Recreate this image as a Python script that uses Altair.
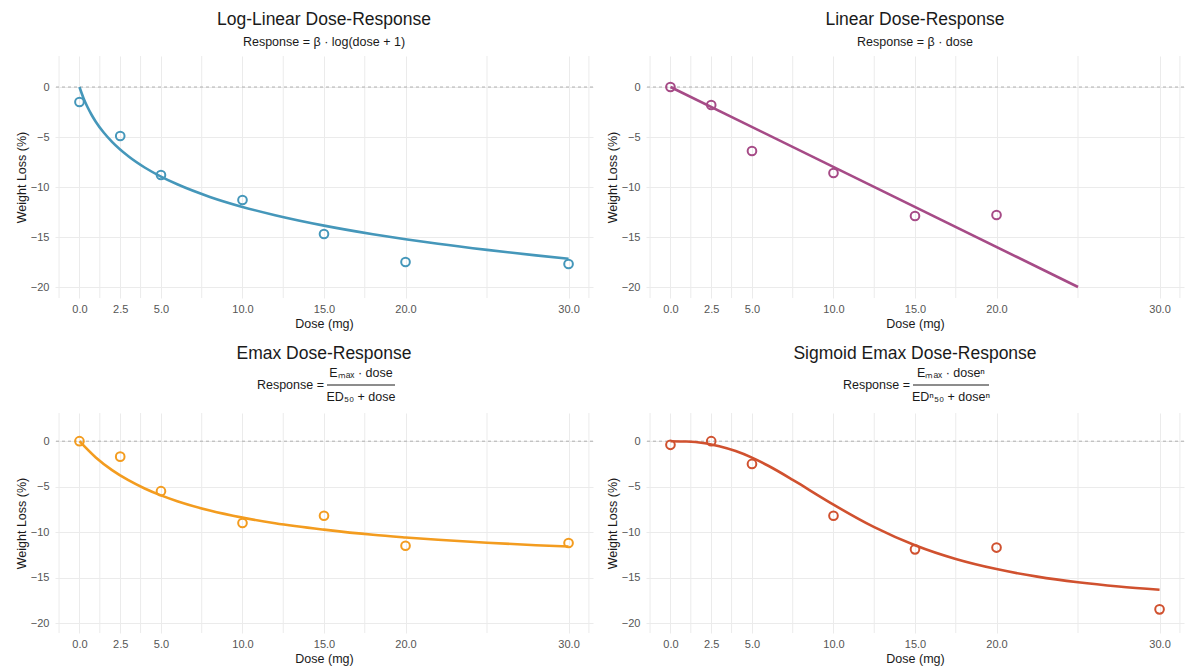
import altair as alt
import pandas as pd

FONT = "Liberation Sans"

obs_dose = [0, 2.5, 5, 10, 15, 20, 30]
loglin_obs = [-1.5, -4.9, -8.8, -11.3, -14.7, -17.5, -17.7]
linear_obs_dose = [0, 2.5, 5, 10, 15, 20]
linear_obs = [0.0, -1.8, -6.4, -8.6, -12.9, -12.8]
emax_obs = [0.0, -1.7, -5.5, -9.0, -8.2, -11.5, -11.2]
sigmoid_obs = [-0.4, 0.0, -2.5, -8.2, -11.9, -11.7, -18.5]

# ---- fitted curves ----
loglin_fit_dose = [0, 0.25, 0.5, 0.75, 1, 1.5, 2, 3, 4, 5, 6, 8, 10, 12, 15, 18, 20, 22, 25, 28, 30]
loglin_fit = [0, -1.12, -2.03, -2.80, -3.47, -4.58, -5.49, -6.93, -8.05, -8.96, -9.73,
              -10.99, -11.99, -12.82, -13.86, -14.72, -15.22, -15.68, -16.29, -16.84, -17.17]
linear_fit_dose = [0, 25]
linear_fit = [0, -20]
emax_fit_dose = [0, 1, 2, 3, 4, 5, 6, 8, 10, 12, 15, 18, 20, 22, 25, 28, 30]
emax_fit = [0, -1.79, -3.18, -4.29, -5.20, -5.96, -6.60, -7.63, -8.41, -9.03, -9.73,
            -10.30, -10.59, -10.85, -11.17, -11.44, -11.59]
sigmoid_fit_dose = [0, 1, 2, 2.5, 3, 4, 5, 6, 7.5, 8, 9, 10, 12.5, 15, 17.5, 20, 22.5, 25, 27.5, 30]
sigmoid_fit = [0, -0.04, -0.20, -0.36, -0.55, -1.09, -1.81, -2.70, -4.25, -4.79, -5.90, -6.98,
               -9.46, -11.45, -12.96, -14.07, -14.90, -15.52, -15.99, -16.35]

# ---- axes ----
x_major = [0, 2.5, 5, 10, 15, 20, 30]
x_minor = [-1.25, 1.25, 3.75, 7.5, 12.5, 17.5, 25, 31.25]
y_grid = [-20, -17.5, -15, -12.5, -10, -7.5, -5, -2.5, 0, 2.5]
y_major = [-20, -15, -10, -5, 0]

colors = {"loglin": "#4597BA", "linear": "#A64B87", "emax": "#F39C1F", "sigmoid": "#D0512F"}

W = 538
H_TOP = 242
H_BOT = 220

x_scale = alt.Scale(domain=[-1.5, 31.5], nice=False, zero=False)
y_scale = alt.Scale(domain=[-21.1, 3.1], nice=False, zero=False)

y_label_expr = "indexof([" + ",".join(str(v) for v in y_major) + "], datum.value) >= 0 ? format(datum.value, 'd') : ''"

x_axis = alt.Axis(values=x_major, format=".1f", title="Dose (mg)", grid=True,
                  gridColor="#EBEBEB", gridWidth=1, domain=False, ticks=False,
                  labelColor="#555555", labelFontSize=11, labelFont=FONT, labelPadding=5,
                  titleFont=FONT, titleFontSize=12.5, titleFontWeight="normal",
                  titleColor="#1a1a1a", titlePadding=3, labelOverlap=False, labelFlush=False)
y_axis = alt.Axis(values=y_grid, labelExpr=y_label_expr, title="Weight Loss (%)", grid=True,
                  gridColor="#EBEBEB", gridWidth=1, domain=False, ticks=False,
                  labelColor="#555555", labelFontSize=11, labelFont=FONT, labelPadding=6,
                  titleFont=FONT, titleFontSize=12.5, titleFontWeight="normal",
                  titleColor="#1a1a1a", titlePadding=2, labelOverlap=False)


def panel(title, subtitle, color, od, ov, fd, fv, height, fraction=None):
    obs = pd.DataFrame({"dose": od, "loss": ov})
    fit = pd.DataFrame({"dose": fd, "loss": fv})
    zero = pd.DataFrame({"loss": [0]})
    minor = pd.DataFrame({"dose": x_minor})

    grid = alt.Chart(minor).mark_rule(color="#EBEBEB", strokeWidth=1).encode(
        x=alt.X("dose:Q", scale=x_scale)
    )
    base_line = alt.Chart(fit).mark_line(color=color, strokeWidth=2.6, interpolate="monotone").encode(
        x=alt.X("dose:Q", scale=x_scale, axis=x_axis),
        y=alt.Y("loss:Q", scale=y_scale, axis=y_axis),
    )
    rule = alt.Chart(zero).mark_rule(color="#A0A0A0", strokeDash=[3, 3], strokeWidth=0.8).encode(
        y=alt.Y("loss:Q", scale=y_scale)
    )
    pts = alt.Chart(obs).mark_point(filled=False, color=color, size=75, strokeWidth=2, opacity=1).encode(
        x=alt.X("dose:Q", scale=x_scale),
        y=alt.Y("loss:Q", scale=y_scale),
    )
    layers = [grid, rule, base_line, pts]
    if fraction is not None:
        num, den, cx, bar_w = fraction
        lhs = alt.Chart(pd.DataFrame({"t": ["Response  ="]})).mark_text(
            font=FONT, fontSize=12.5, color="#1a1a1a", align="right", baseline="middle"
        ).encode(text="t:N", x=alt.value(cx - bar_w / 2 - 3), y=alt.value(-28))
        n = alt.Chart(pd.DataFrame({"t": [num]})).mark_text(
            font=FONT, fontSize=12.5, color="#1a1a1a", align="center", baseline="middle"
        ).encode(text="t:N", x=alt.value(cx), y=alt.value(-40))
        d = alt.Chart(pd.DataFrame({"t": [den]})).mark_text(
            font=FONT, fontSize=12.5, color="#1a1a1a", align="center", baseline="middle"
        ).encode(text="t:N", x=alt.value(cx), y=alt.value(-16))
        bar = alt.Chart(pd.DataFrame({"t": [0]})).mark_rule(color="#1a1a1a", strokeWidth=1).encode(
            x=alt.value(cx - bar_w / 2), x2=alt.value(cx + bar_w / 2), y=alt.value(-28)
        )
        layers += [lhs, n, d, bar]
    t = alt.TitleParams(text=title, subtitle=subtitle if subtitle else "", frame="group",
                        anchor="middle", offset=5 if fraction else 7)
    return alt.layer(*layers).properties(width=W, height=height, title=t)


p1 = panel("Log-Linear Dose-Response", "Response = β · log(dose + 1)", colors["loglin"],
           obs_dose, loglin_obs, loglin_fit_dose, loglin_fit, H_TOP)
p2 = panel("Linear Dose-Response", "Response = β · dose", colors["linear"],
           linear_obs_dose, linear_obs, linear_fit_dose, linear_fit, H_TOP)
p3 = panel("Emax Dose-Response", None, colors["emax"],
           obs_dose, emax_obs, emax_fit_dose, emax_fit, H_BOT,
           fraction=("Eₘₐₓ · dose", "ED₅₀ + dose", 306, 68))
p4 = panel("Sigmoid Emax Dose-Response", None, colors["sigmoid"],
           obs_dose, sigmoid_obs, sigmoid_fit_dose, sigmoid_fit, H_BOT,
           fraction=("Eₘₐₓ · doseⁿ", "EDⁿ₅₀ + doseⁿ", 305, 76))

chart = alt.vconcat(
    alt.hconcat(p1, p2, spacing=12),
    alt.hconcat(p3, p4, spacing=12),
    spacing=14,
).properties(
    padding={"left": 15, "top": 10, "right": 5, "bottom": 5},
    background="white",
).configure_view(stroke=None).configure_title(
    font=FONT, fontSize=17.5, fontWeight="normal", color="#1a1a1a",
    subtitleFont=FONT, subtitleFontSize=12.5, subtitleColor="#1a1a1a", subtitlePadding=8,
)

chart.save("out.html", embed_options={"renderer": "svg", "actions": False})
